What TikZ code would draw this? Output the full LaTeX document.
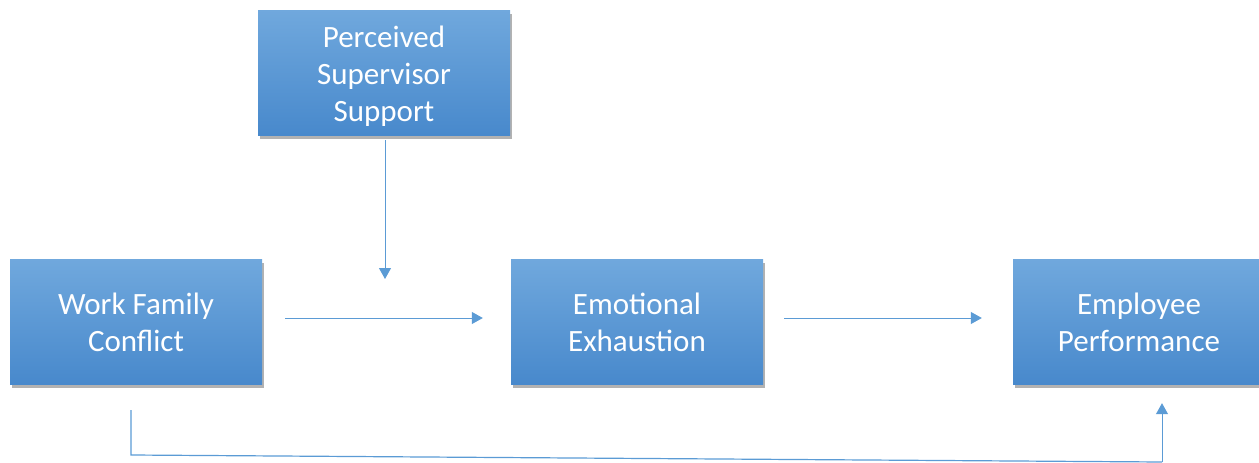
\documentclass[tikz,border=0pt]{standalone}
\usepackage{fontspec}
\setmainfont{Carlito}
\usetikzlibrary{arrows.meta,shadows,calc}
\definecolor{boxtop}{RGB}{112,168,221}
\definecolor{boxbot}{RGB}{72,137,204}
\definecolor{linecol}{RGB}{91,155,213}
\newcommand{\toppad}{\rule{0pt}{28pt}}
\newcommand{\toppadb}{\rule{0pt}{23pt}}
\tikzset{
  blockbox/.style={rectangle, minimum width=252pt, minimum height=125pt, inner sep=0pt,
    top color=boxtop, bottom color=boxbot, draw=none, text=white,
    font=\fontsize{31pt}{37pt}\selectfont, align=center,
    drop shadow={shadow xshift=2pt, shadow yshift=-4pt, fill=black, opacity=0.3}},
  conn/.style={draw=linecol, line width=1pt, -{Triangle[length=11pt,width=12pt]}},
  plainconn/.style={draw=linecol, line width=1.2pt}
}
\begin{document}
\begin{tikzpicture}[x=1pt,y=-1pt]
\useasboundingbox (0,0) rectangle (1259,463);
\clip (0,0) rectangle (1259,463);
\node[blockbox] (pss) at (384,72.5) {\toppad Perceived\\Supervisor\\Support};
\node[blockbox] (wfc) at (136,321.5) {\toppadb Work Family\\Conflict};
\node[blockbox] (ee) at (637,321.5) {\toppadb Emotional\\Exhaustion};
\node[blockbox] (ep) at (1139,321.5) {\toppadb Employee\\Performance};
\coordinate (m1) at (385,279);
\coordinate (c1) at (131,455);
\coordinate (c2) at (1162,462);
\draw[conn] ($(pss.south)+(1,5)$) -- (m1);
\draw[conn] ($(wfc.east)+(23,-3.5)$) -- ($(ee.west)+(-28,-3.5)$);
\draw[conn] ($(ee.east)+(21,-3.5)$) -- ($(ep.west)+(-31,-3.5)$);
\draw[plainconn] ($(wfc.south)+(-5,26)$) -- (c1) -- (c2);
\draw[conn] (c2) -- ($(ep.south)+(23,19)$);
\end{tikzpicture}
\end{document}
